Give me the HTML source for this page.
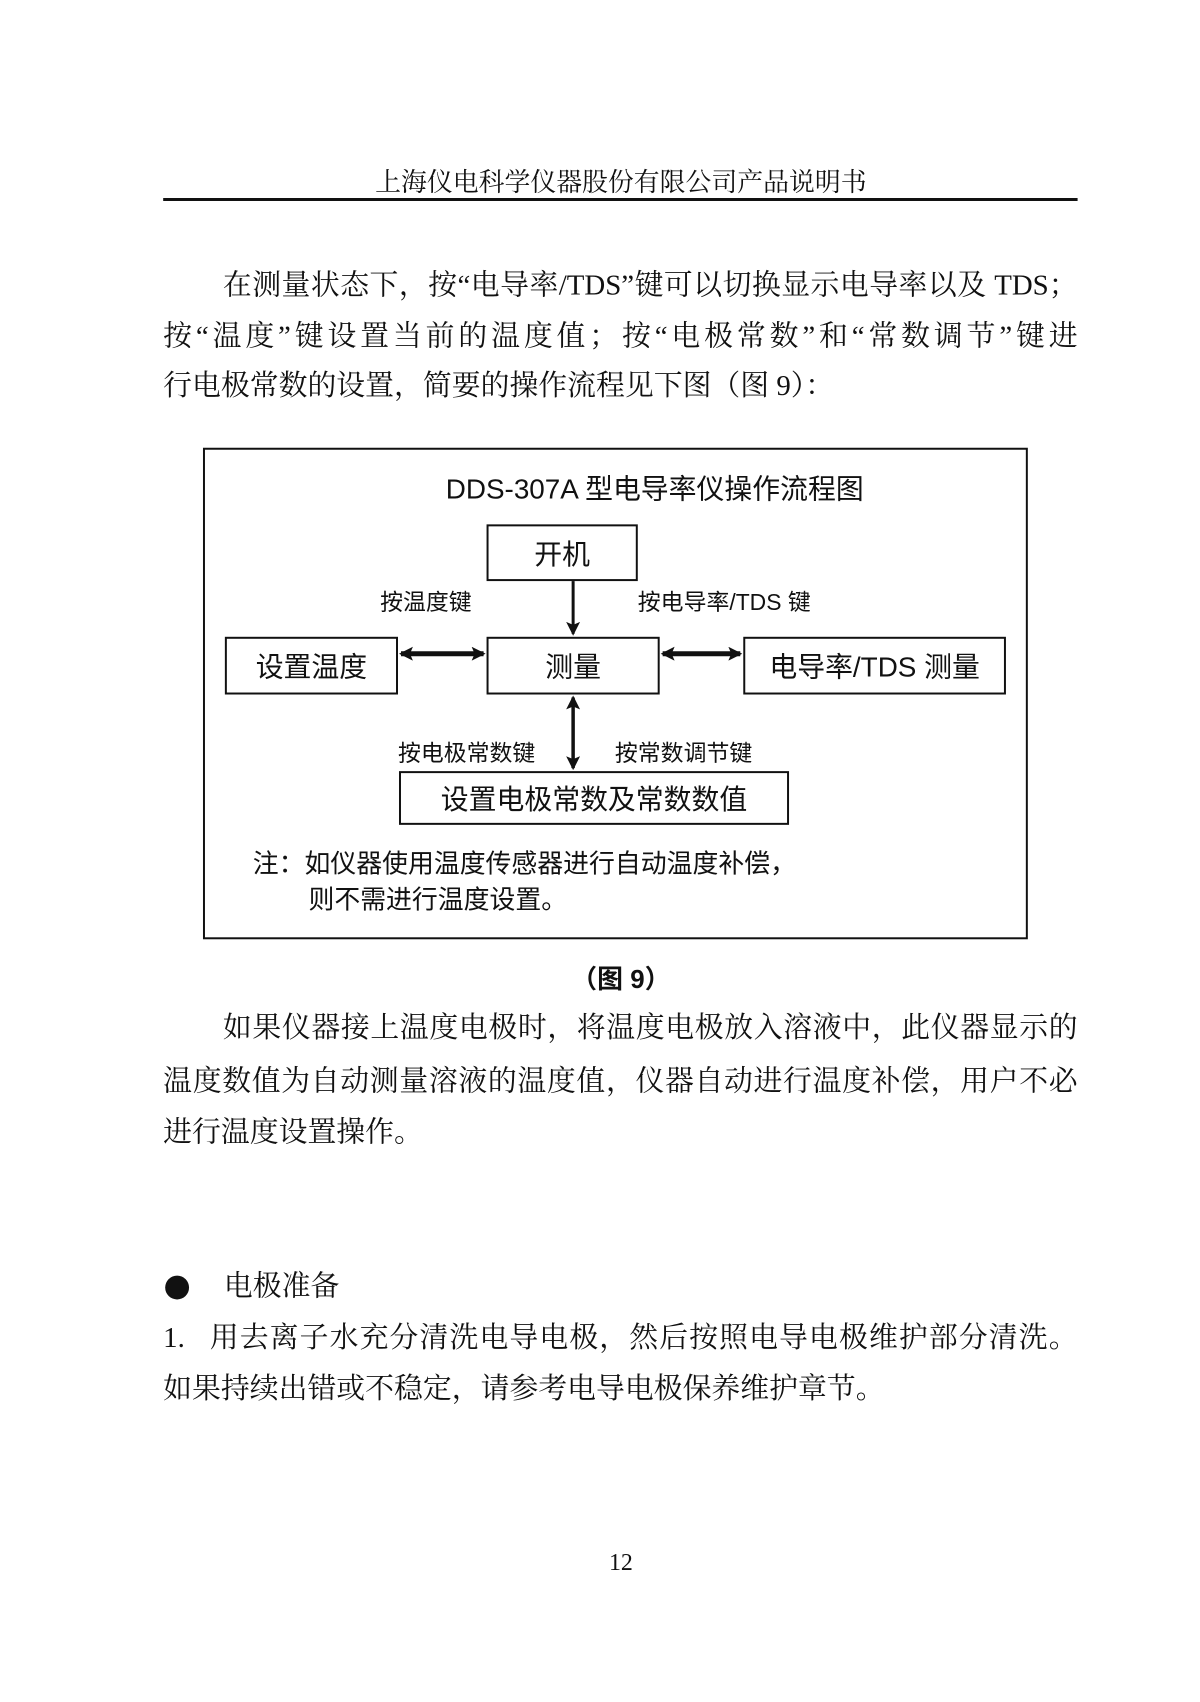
<!DOCTYPE html>
<html><head><meta charset="utf-8"><style>
body{margin:0;width:1200px;height:1702px;background:#fff;position:relative;overflow:hidden;font-family:"Liberation Serif","Noto Serif CJK SC",serif;color:#111}
#w{position:absolute;left:0;top:0;width:1200px;height:1702px;transform:scale(0.995);transform-origin:0 0}
.a{position:absolute;white-space:nowrap}
.p{position:absolute;left:164px;width:919px;font-size:29px;line-height:51px;text-align:justify;text-align-last:justify;white-space:nowrap}
.s{font-family:"Liberation Sans","Noto Sans CJK SC",sans-serif}
.b{position:absolute;border:2px solid #111;box-sizing:border-box;display:flex;align-items:center;justify-content:center;font-family:"Liberation Sans","Noto Sans CJK SC",sans-serif;font-size:28px}
</style></head><body><div id="w">
<div class="a" style="left:0;width:1248px;text-align:center;top:163px;font-size:26px">上海仪电科学仪器股份有限公司产品说明书</div>
<div class="a" style="left:164px;width:919px;top:199px;height:3px;background:#111"></div>

<div class="p" style="top:262px;padding-left:60px;width:859px">在测量状态下，按“电导率/TDS”键可以切换显示电导率以及 TDS；</div>
<div class="p" style="top:313px">按“温度”键设置当前的温度值；按“电极常数”和“常数调节”键进</div>
<div class="p" style="top:363px;text-align:left;text-align-last:left">行电极常数的设置，简要的操作流程见下图（图 9）：</div>

<div class="a" style="left:204px;top:450px;width:829px;height:494px;border:2px solid #111;box-sizing:border-box"></div>
<div class="a s" style="left:204px;width:908px;text-align:center;top:470px;font-size:28px">DDS-307A 型电导率仪操作流程图</div>
<div class="b" style="left:489px;top:527px;width:152px;height:57px">开机</div>
<div class="b" style="left:489px;top:640px;width:174px;height:58px">测量</div>
<div class="b" style="left:226px;top:640px;width:174px;height:58px">设置温度</div>
<div class="b" style="left:747px;top:640px;width:264px;height:58px">电导率/TDS 测量</div>
<div class="b" style="left:401px;top:775px;width:392px;height:54px">设置电极常数及常数数值</div>
<div class="a s" style="left:382px;top:586px;font-size:23px">按温度键</div>
<div class="a s" style="left:641px;top:586px;font-size:23px">按电导率/TDS 键</div>
<div class="a s" style="left:400px;top:738px;font-size:23px">按电极常数键</div>
<div class="a s" style="left:618px;top:738px;font-size:23px">按常数调节键</div>
<svg class="a" style="left:0;top:0" width="1200" height="1000">
<defs>
<marker id="n" markerWidth="14" markerHeight="14" refX="12" refY="7" orient="auto-start-reverse" markerUnits="userSpaceOnUse"><path d="M0,0L14,7L0,14L3,7z" fill="#111"/></marker></defs>
<line x1="576" y1="584" x2="576" y2="637" stroke="#111" stroke-width="3" marker-end="url(#n)"/>
<line x1="403" y1="657" x2="486" y2="657" stroke="#111" stroke-width="5" marker-end="url(#n)" marker-start="url(#n)"/>
<line x1="666" y1="657" x2="744" y2="657" stroke="#111" stroke-width="5" marker-end="url(#n)" marker-start="url(#n)"/>
<line x1="576" y1="701" x2="576" y2="772" stroke="#111" stroke-width="3.5" marker-end="url(#n)" marker-start="url(#n)"/>
</svg>
<div class="a s" style="left:254px;top:850px;font-size:26px;line-height:36px">注：如仪器使用温度传感器进行自动温度补偿，<br><span style="padding-left:56px">则不需进行温度设置。</span></div>

<div class="a s" style="left:0;width:1248px;text-align:center;top:964px;font-size:26px;font-weight:bold">（图 9）</div>

<div class="p" style="top:1008px;padding-left:60px;width:859px">如果仪器接上温度电极时，将温度电极放入溶液中，此仪器显示的</div>
<div class="p" style="top:1062px">温度数值为自动测量溶液的温度值，仪器自动进行温度补偿，用户不必</div>
<div class="p" style="top:1113px;text-align:left;text-align-last:left">进行温度设置操作。</div>

<div class="a" style="left:166px;top:1282px;width:24px;height:24px;border-radius:50%;background:#111"></div>
<div class="a" style="left:225px;top:1268px;font-size:29px;line-height:51px">电极准备</div>
<div class="p" style="top:1320px">1.&nbsp;&nbsp;&nbsp;用去离子水充分清洗电导电极，然后按照电导电极维护部分清洗。</div>
<div class="p" style="top:1371px;text-align:left;text-align-last:left">如果持续出错或不稳定，请参考电导电极保养维护章节。</div>

<div class="a" style="left:0;width:1248px;text-align:center;top:1558px;font-size:24px">12</div>
</div></body></html>
